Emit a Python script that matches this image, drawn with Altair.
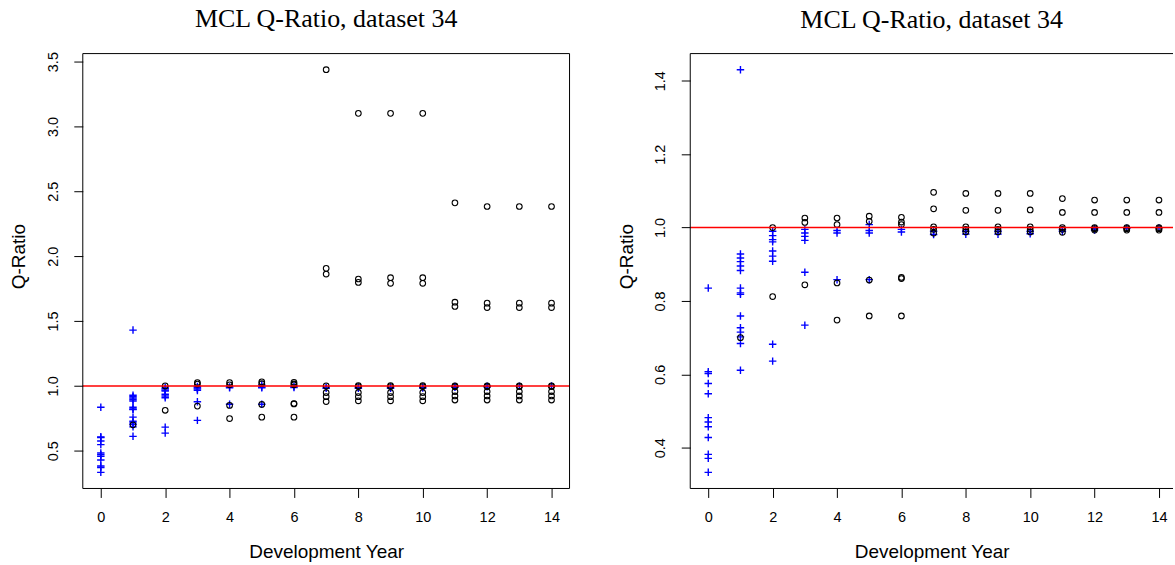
import altair as alt
import pandas as pd

TITLE = "MCL Q-Ratio, dataset 34"
X_TICKS = [0, 2, 4, 6, 8, 10, 12, 14]
Y_TICKS_LEFT = [0.5, 1.0, 1.5, 2.0, 2.5, 3.0, 3.5]
Y_TICKS_RIGHT = [0.4, 0.6, 0.8, 1.0, 1.2, 1.4]

# blue "+" points by development year 0..14 (shared by both panels)
PLUS = [
    [0.835, 0.607, 0.602, 0.575, 0.547, 0.482, 0.470, 0.457, 0.428, 0.382, 0.371, 0.333],
    [1.430, 0.928, 0.917, 0.907, 0.895, 0.883, 0.835, 0.822, 0.818, 0.759, 0.727, 0.715, 0.702, 0.684, 0.611],
    [0.990, 0.978, 0.967, 0.961, 0.936, 0.922, 0.908, 0.682, 0.636],
    [0.995, 0.985, 0.976, 0.965, 0.878, 0.734],
    [0.992, 0.985, 0.858],
    [1.008, 0.992, 0.985, 0.858],
    [0.995, 0.988],
    [0.990, 0.981],
    [0.990, 0.982],
    [0.990, 0.982],
    [0.990, 0.983],
    [0.995, 0.990],
    [0.997, 0.993],
    [0.998],
    [0.999],
]

# black circles, development years 0..6 (shared)
CIRCLE_EARLY = [
    [],
    [0.700],
    [1.000, 0.812],
    [1.026, 1.014, 0.844],
    [1.026, 1.008, 0.849, 0.748],
    [1.031, 1.017, 0.857, 0.759],
    [1.028, 1.015, 1.008, 0.864, 0.861, 0.759],
]

# black circles, development years 7..14, left panel
CIRCLE_LATE_LEFT = [
    [3.438, 1.906, 1.862, 1.000, 0.948, 0.917, 0.879],
    [3.101, 1.824, 1.798, 1.002, 0.995, 0.948, 0.917, 0.885],
    [3.101, 1.834, 1.791, 1.002, 0.995, 0.948, 0.917, 0.885],
    [3.101, 1.834, 1.791, 1.002, 0.995, 0.948, 0.917, 0.885],
    [2.411, 1.645, 1.612, 1.000, 0.995, 0.956, 0.922, 0.891],
    [2.383, 1.638, 1.604, 1.000, 0.995, 0.956, 0.922, 0.891],
    [2.383, 1.638, 1.604, 1.000, 0.995, 0.956, 0.922, 0.891],
    [2.383, 1.638, 1.604, 1.000, 0.995, 0.956, 0.922, 0.891],
]

# black circles, development years 7..14, right panel
CIRCLE_LATE_RIGHT = [
    [1.096, 1.051, 1.002, 0.995, 0.985],
    [1.093, 1.047, 1.002, 0.995, 0.988],
    [1.093, 1.047, 1.002, 0.995, 0.988],
    [1.093, 1.048, 1.002, 0.995, 0.988],
    [1.079, 1.041, 1.000, 0.995, 0.987],
    [1.075, 1.041, 1.000, 0.997, 0.993],
    [1.075, 1.041, 1.000, 0.997, 0.993],
    [1.075, 1.041, 1.000, 0.997, 0.993],
]

SANS = "Liberation Sans"
SERIF = "Liberation Serif"
H = 436
W_LEFT = 488
W_RIGHT = 484


def long_df(groups):
    rows = []
    for dev, vals in enumerate(groups):
        for v in vals:
            rows.append({"dev": dev, "q": v})
    return pd.DataFrame(rows)


def panel(late_circles, ydomain, yticks, width, xmax, box_right):
    xs = alt.Scale(domain=[-0.56, xmax], nice=False, zero=False)
    ys = alt.Scale(domain=ydomain, nice=False, zero=False)
    xaxis = alt.Axis(
        values=X_TICKS, title="Development Year", domain=False, grid=False,
        tickSize=9, tickColor="black", tickWidth=1,
        labelFont=SANS, labelFontSize=14.5, labelColor="black",
        labelBaseline="alphabetic", labelPadding=24.5, labelFlush=False,
        titleFont=SANS, titleFontSize=19, titleFontWeight="normal", titleColor="black",
        titleBaseline="alphabetic", titleY=69,
    )
    yaxis = alt.Axis(
        values=yticks, format=".1f", title="Q-Ratio", domain=False, grid=False,
        tickSize=9, tickColor="black", tickWidth=1,
        labelFont=SANS, labelFontSize=14.5, labelColor="black",
        labelAngle=270, labelAlign="center", labelBaseline="alphabetic",
        labelPadding=16.5, labelFlush=False,
        titleFont=SANS, titleFontSize=19, titleFontWeight="normal", titleColor="black",
        titleAngle=270, titleAlign="center", titleBaseline="alphabetic",
        titleX=-58, titleY=203,
    )
    plus = alt.Chart(long_df(PLUS)).mark_point(
        shape="M-1,0L1,0M0,-1L0,1", filled=False, color="blue", size=56, strokeWidth=1.4, opacity=1
    ).encode(x=alt.X("dev:Q", scale=xs, axis=xaxis), y=alt.Y("q:Q", scale=ys, axis=yaxis))
    circ = alt.Chart(long_df(CIRCLE_EARLY + late_circles)).mark_point(
        shape="circle", filled=False, color="black", size=32, strokeWidth=1.1, opacity=1
    ).encode(x=alt.X("dev:Q", scale=xs), y=alt.Y("q:Q", scale=ys))
    ref = alt.Chart(pd.DataFrame({"y": [1.0]})).mark_rule(color="#ff0000", strokeWidth=1.5).encode(
        y=alt.Y("y:Q", scale=ys)
    )
    edges = [
        alt.Chart(pd.DataFrame({"e": [0]})).mark_rule(color="black", strokeWidth=1).encode(
            x=alt.value(0), x2=alt.value(width), y=alt.value(0)),
        alt.Chart(pd.DataFrame({"e": [0]})).mark_rule(color="black", strokeWidth=1).encode(
            x=alt.value(0), x2=alt.value(width), y=alt.value(H)),
        alt.Chart(pd.DataFrame({"e": [0]})).mark_rule(color="black", strokeWidth=1).encode(
            x=alt.value(0), y=alt.value(0), y2=alt.value(H)),
    ]
    if box_right:
        edges.append(
            alt.Chart(pd.DataFrame({"e": [0]})).mark_rule(color="black", strokeWidth=1).encode(
                x=alt.value(width), y=alt.value(0), y2=alt.value(H)))
    return alt.layer(plus, circ, ref, *edges).properties(
        width=width, height=H,
        title=alt.TitleParams(TITLE, font=SERIF, fontSize=26, fontWeight="normal", color="black",
                              anchor="middle", baseline="alphabetic", offset=-1),
    )


left = panel(CIRCLE_LATE_LEFT, [0.209, 3.562], Y_TICKS_LEFT, W_LEFT, 14.56, True)
right = panel(CIRCLE_LATE_RIGHT, [0.289, 1.474], Y_TICKS_RIGHT, W_RIGHT, 14.56 - 4 / 32.28, False)

chart = alt.hconcat(left, right, spacing=121, bounds="flush").properties(
    padding={"left": 9, "top": 4, "right": 0, "bottom": 0}, background="white"
).configure_view(stroke="transparent")

chart.save("out.html", embed_options={"renderer": "svg", "actions": False})
